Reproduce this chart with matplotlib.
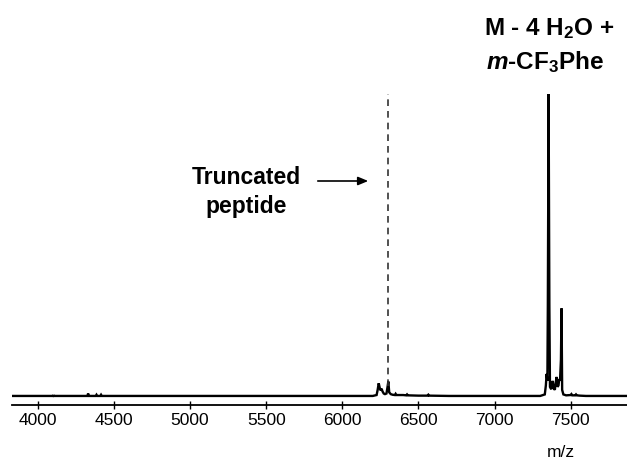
import matplotlib
matplotlib.use("Agg")
import matplotlib.pyplot as plt

plt.rcParams['font.family'] = ['Liberation Sans', 'DejaVu Sans']
plt.rcParams['mathtext.fontset'] = 'custom'
plt.rcParams['mathtext.rm'] = 'Liberation Sans'
plt.rcParams['mathtext.bf'] = 'Liberation Sans:bold'
plt.rcParams['mathtext.it'] = 'Liberation Sans:italic'
plt.rcParams['mathtext.bfit'] = 'Liberation Sans:italic:bold'

# spectrum vertices (m/z, relative intensity)
mz = [3830, 4000, 4100, 4102, 4104, 4300, 4325, 4330, 4336, 4360, 4380, 4385, 4390, 4410, 4415, 4420,
      4600, 5000, 5500, 5800, 6200, 6225, 6232, 6239, 6246, 6252, 6258, 6264, 6272, 6280, 6290,
      6297, 6302, 6308, 6318, 6330, 6345, 6350, 6355, 6400, 6420, 6425, 6430, 6500, 6560, 6565, 6570,
      6700, 7000, 7200, 7300, 7330, 7337, 7342, 7347, 7350, 7355, 7360, 7364, 7372, 7378, 7382,
      7388, 7396, 7402, 7408, 7414, 7420, 7425, 7430, 7436, 7440, 7444, 7452, 7470, 7500, 7505, 7510,
      7530, 7535, 7540, 7560, 7600, 7700, 7870]
inten = [0, 0, 0, 0.3, 0, 0, 0, 0.8, 0, 0, 0, 0.4, 0, 0, 0.4, 0,
         0, 0, 0, 0, 0, 0.3, 2.0, 4.2, 2.6, 1.8, 2.4, 1.5, 0.8, 0.6, 0.8,
         3.0, 4.8, 1.2, 0.6, 0.4, 0.3, 0.7, 0.3, 0.3, 0.2, 0.5, 0.2, 0.1, 0.1, 0.4, 0.1,
         0, 0, 0, 0, 0.5, 3.5, 7.3, 5.0, 30.0, 100, 30.0, 3.0, 2.2, 3.8, 5.0,
         2.6, 2.0, 4.5, 6.3, 3.0, 3.5, 5.6, 5.0, 12.0, 29.0, 2.0, 0.5, 0.2, 0.3, 0.6, 0.2,
         0.2, 0.5, 0.2, 0.1, 0, 0, 0]

xticks = [4000, 4500, 5000, 5500, 6000, 6500, 7000, 7500]
dash_mz = 6302

fig = plt.figure(figsize=(6.27, 4.64), dpi=100)
ax = fig.add_axes([12/627, (464-406)/464, 615/627, (406-95)/464])
ax.plot(mz, inten, color='black', lw=1.7, solid_joinstyle='miter')
ax.set_xlim(3830, 7870)
ax.set_ylim(-3.0, 100)
ax.axvline(dash_mz, ymin=0.06, ymax=1.0, color='#333333', lw=1.2, ls=(0, (4, 3)))

for s in ['top', 'right', 'left']:
    ax.spines[s].set_visible(False)
ax.spines['bottom'].set_linewidth(1.3)
ax.set_yticks([])
ax.set_xticks(xticks)
ax.set_xticklabels([str(t) for t in xticks], fontsize=12.5)
ax.tick_params(axis='x', direction='inout', length=6, width=1, pad=2, colors='black')

fig.text(561/627, 1 - 453/464, 'm/z', ha='center', va='center', fontsize=12.5)

fig.text(549/627, 1 - 29/464, r'M - 4 H$_\mathbf{2}$O +', ha='center', va='center',
         fontsize=17.5, fontweight='bold')
fig.text(545/627, 1 - 62/464, r'$\boldsymbol{m}$-CF$_\mathbf{3}$Phe', ha='center', va='center',
         fontsize=17.5, fontweight='bold')

fig.text(246/627, 1 - 177/464, 'Truncated', ha='center', va='center', fontsize=16.5, fontweight='bold')
fig.text(246/627, 1 - 206/464, 'peptide', ha='center', va='center', fontsize=16.5, fontweight='bold')
fig.add_artist(matplotlib.patches.FancyArrowPatch((315/627, 1 - 182/464), (371/627, 1 - 182/464),
               transform=fig.transFigure, arrowstyle='-|>,head_length=6,head_width=2.5',
               color='black', lw=1.2))

fig.savefig('out.png', dpi=100)
